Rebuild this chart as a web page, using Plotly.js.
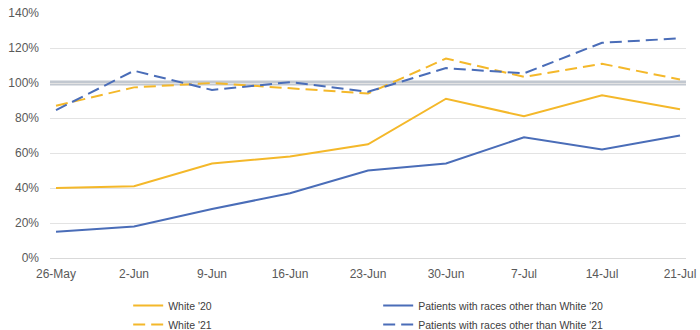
<!DOCTYPE html>
<html>
<head>
<meta charset="utf-8">
<script src="https://cdn.plot.ly/plotly-3.0.1.min.js"></script>
<style>html,body{margin:0;padding:0;background:#fff;}#chart{width:700px;height:330px;}</style>
</head>
<body>
<div id="chart"></div>
<script>
var weeks = ["26-May","2-Jun","9-Jun","16-Jun","23-Jun","30-Jun","7-Jul","14-Jul","21-Jul"];
var white20 = [0.40, 0.41, 0.54, 0.58, 0.65, 0.91, 0.81, 0.93, 0.85];
var other20 = [0.15, 0.18, 0.28, 0.37, 0.50, 0.54, 0.69, 0.62, 0.70];
var white21 = [0.87, 0.975, 1.00, 0.97, 0.94, 1.14, 1.035, 1.11, 1.02];
var other21 = [0.845, 1.07, 0.96, 1.005, 0.95, 1.085, 1.055, 1.23, 1.255];
var names = ["White '20", "Patients with races other than White '20", "White '21", "Patients with races other than White '21"];
var yellow = "#F4B82A", blue = "#4A6DB8";

var idx = weeks.map(function(_, i){return i;});
function tr(y, name, color, dash){
  return {x: idx, y: y, name: name, type: "scatter", mode: "lines",
    line: {color: color, width: 2, dash: dash}, hoverinfo: "skip"};
}
var data = [
  tr(white20, names[0], yellow, "solid"),
  tr(other20, names[1], blue, "solid"),
  tr(white21, names[2], yellow, "12px,6px"),
  tr(other21, names[3], blue, "12px,6px")
];
var layout = {
  width: 700, height: 330,
  margin: {l: 50, r: 14, t: 13, b: 72, autoexpand: false},
  paper_bgcolor: "#fff", plot_bgcolor: "#fff",
  font: {family: "Liberation Sans, Arial, sans-serif", color: "#595959", size: 12},
  showlegend: true,
  xaxis: {range: [-0.077, 8.077], tickvals: idx, ticktext: weeks, showgrid: false,
    zeroline: false, showline: false, ticks: "", fixedrange: true, ticklabelstandoff: 7,
    tickfont: {size: 12, color: "#595959"}},
  yaxis: {range: [0, 1.4], dtick: 0.2, tickformat: ".0%", gridcolor: "#e3e3e3", gridwidth: 1,
    zeroline: true, zerolinecolor: "#d9d9d9", zerolinewidth: 1, showline: false, ticks: "",
    ticklabelstandoff: 10, tickfont: {size: 12, color: "#595959"}},
  shapes: [{type: "line", xref: "paper", x0: 0, x1: 1, yref: "y", y0: 1, y1: 1,
    line: {color: "#C2C8D0", width: 5}, layer: "below"}],
  legend: {orientation: "h", x: 0.516, xanchor: "center", y: -0.135, yanchor: "top",
    entrywidth: 205, entrywidthmode: "pixels", traceorder: "normal",
    font: {size: 10.5, color: "#404040"}, tracegroupgap: 0, itemwidth: 30}
};
Plotly.newPlot("chart", data, layout, {displayModeBar: false, staticPlot: true});
</script>
</body>
</html>
